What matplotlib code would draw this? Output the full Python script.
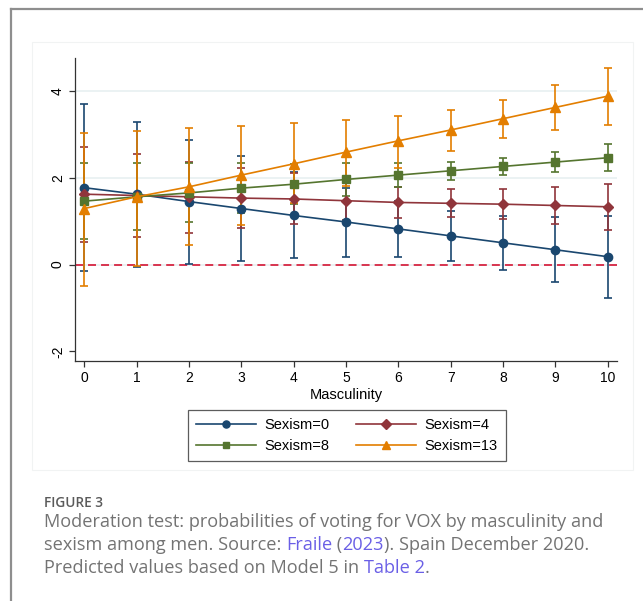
import matplotlib
matplotlib.use("Agg")
import matplotlib.pyplot as plt
from matplotlib.lines import Line2D
from matplotlib.patches import Rectangle

plt.rcParams["font.family"] = ["Liberation Sans", "DejaVu Sans"]
plt.rcParams["axes.unicode_minus"] = False

# ---------------- data ----------------
masculinity = [0, 1, 2, 3, 4, 5, 6, 7, 8, 9, 10]

series_labels = ["Sexism=0", "Sexism=4", "Sexism=8", "Sexism=13"]

s0_mid = [1.77, 1.62, 1.45, 1.29, 1.13, 0.98, 0.82, 0.66, 0.50, 0.34, 0.18]
s0_lo = [-0.15, -0.06, 0.02, 0.09, 0.15, 0.18, 0.17, 0.08, -0.12, -0.40, -0.76]
s0_hi = [3.69, 3.29, 2.88, 2.50, 2.12, 1.77, 1.47, 1.24, 1.12, 1.09, 1.12]

s4_mid = [1.62, 1.59, 1.56, 1.53, 1.51, 1.47, 1.43, 1.41, 1.39, 1.36, 1.33]
s4_lo = [0.51, 0.63, 0.73, 0.84, 0.94, 1.02, 1.08, 1.10, 1.04, 0.93, 0.79]
s4_hi = [2.71, 2.55, 2.37, 2.22, 2.10, 1.92, 1.79, 1.73, 1.73, 1.79, 1.86]

s8_mid = [1.46, 1.56, 1.65, 1.76, 1.85, 1.96, 2.06, 2.16, 2.26, 2.36, 2.46]
s8_lo = [0.59, 0.79, 0.99, 1.18, 1.39, 1.59, 1.79, 1.95, 2.06, 2.12, 2.15]
s8_hi = [2.34, 2.34, 2.35, 2.33, 2.32, 2.33, 2.33, 2.37, 2.46, 2.60, 2.77]

s13_mid = [1.29, 1.56, 1.79, 2.06, 2.32, 2.59, 2.85, 3.10, 3.36, 3.62, 3.88]
s13_lo = [-0.50, -0.03, 0.45, 0.92, 1.41, 1.82, 2.22, 2.62, 2.91, 3.10, 3.22]
s13_hi = [3.04, 3.08, 3.14, 3.19, 3.26, 3.33, 3.43, 3.57, 3.80, 4.14, 4.53]

y_ticks = [-2, 0, 2, 4]
x_ticks = [0, 1, 2, 3, 4, 5, 6, 7, 8, 9, 10]

# ---------------- style ----------------
colors = ["#1a476f", "#90353b", "#55752f", "#e37e00"]
markers = ["o", "D", "s", "^"]
msizes = [6.0, 5.6, 5.6, 6.8]

W, H = 643, 601
fig = plt.figure(figsize=(W / 100, H / 100), dpi=100)
fig.patch.set_facecolor("white")

# page card border (top and left)
fig.add_artist(Line2D([11 / W, 11 / W], [0, 1 - 9 / H], color="#8e8e8e", lw=1.6))
fig.add_artist(Line2D([11 / W, 1], [1 - 9 / H, 1 - 9 / H], color="#8e8e8e", lw=1.6))
# faint graph image frame
fig.add_artist(Rectangle((32 / W, 1 - 470 / H), (633 - 32) / W, (470 - 42) / H,
                         transform=fig.transFigure, facecolor="none",
                         edgecolor="#f1f3f3", lw=0.8))

cfont = "Liberation Sans"
ax = fig.add_axes([75.3 / W, 1 - 361 / H, (617 - 75.3) / W, (361 - 58) / H])
ax.set_facecolor("white")
ax.set_xlim(-0.172, 10.176)
ax.set_ylim(-2.223, 4.758)

for gy in [0, 2, 4]:
    ax.axhline(gy, color="#e8f0f1", lw=1.2, zorder=0)
ax.axhline(0, color="#d8344f", lw=1.4, ls=(0, (4.1, 2.6)), zorder=1)

all_mid = [s0_mid, s4_mid, s8_mid, s13_mid]
all_lo = [s0_lo, s4_lo, s8_lo, s13_lo]
all_hi = [s0_hi, s4_hi, s8_hi, s13_hi]

for mid, lo, hi, c in zip(all_mid, all_lo, all_hi, colors):
    yerr = [[m - l for m, l in zip(mid, lo)], [h - m for m, h in zip(mid, hi)]]
    ax.errorbar(masculinity, mid, yerr=yerr, fmt="none", ecolor=c,
                elinewidth=1.2, capsize=3, capthick=1.2, zorder=2)

handles = []
for mid, c, mk, ms, lab in zip(all_mid, colors, markers, msizes, series_labels):
    h, = ax.plot(masculinity, mid, color=c, lw=1.2, marker=mk, ms=ms,
                 mec=c, mfc=c, zorder=3, label=lab)
    handles.append(h)

for sp in ["top", "right"]:
    ax.spines[sp].set_visible(False)
for sp in ["left", "bottom"]:
    ax.spines[sp].set_color("#333333")
    ax.spines[sp].set_linewidth(0.9)

ax.set_xticks(x_ticks)
ax.set_yticks(y_ticks)
ax.tick_params(axis="both", direction="out", length=4.5, width=0.9,
               color="#333333", labelsize=10, pad=3)
ax.tick_params(axis="y", labelrotation=90)
for t in ax.get_yticklabels():
    t.set_va("center")
ax.set_xlabel("Masculinity", fontsize=10.5, labelpad=1.5)

order = [0, 2, 1, 3]
leg = fig.legend([handles[i] for i in order], [series_labels[i] for i in order],
                 ncol=2, loc="upper left", bbox_to_anchor=(188 / W, 1 - 410 / H),
                 frameon=True, fancybox=False, edgecolor="#333333",
                 prop={"family": cfont, "size": 10.5}, handlelength=4.1,
                 handletextpad=0.6, columnspacing=1.8, labelspacing=0.48,
                 borderpad=0.55, borderaxespad=0, markerscale=0.85)
leg.get_frame().set_linewidth(0.9)

# ---------------- caption ----------------
gray = "#737373"
link = "#6a5fe6"
capfont = "Open Sans"
capsize = 13.1
fig.text(44 / W, 1 - 503 / H, "FIGURE 3", fontsize=9.8, color="#5a5a5a",
         fontfamily=capfont, fontweight="semibold", va="center", ha="left")

lines = [
    [("Moderation test: probabilities of voting for VOX by masculinity and", gray)],
    [("sexism among men. Source: ", gray), ("Fraile", link), (" (", gray),
     ("2023", link), ("). Spain December 2020.", gray)],
    [("Predicted values based on Model 5 in ", gray), ("Table 2", link), (".", gray)],
]
line_y = [522, 545, 568]
cap_texts = []
for pieces, yc in zip(lines, line_y):
    row = []
    for txt, col in pieces:
        t = fig.text(44 / W, 1 - yc / H, txt, fontsize=capsize, color=col,
                     fontfamily=capfont, va="center", ha="left")
        row.append(t)
    cap_texts.append(row)

fig.canvas.draw()
renderer = fig.canvas.get_renderer()
for row, yc in zip(cap_texts, line_y):
    x_px = 44.0
    for t in row:
        t.set_position((x_px / W, 1 - yc / H))
        x_px += t.get_window_extent(renderer).width

fig.savefig("out.png", dpi=100, facecolor="white")
